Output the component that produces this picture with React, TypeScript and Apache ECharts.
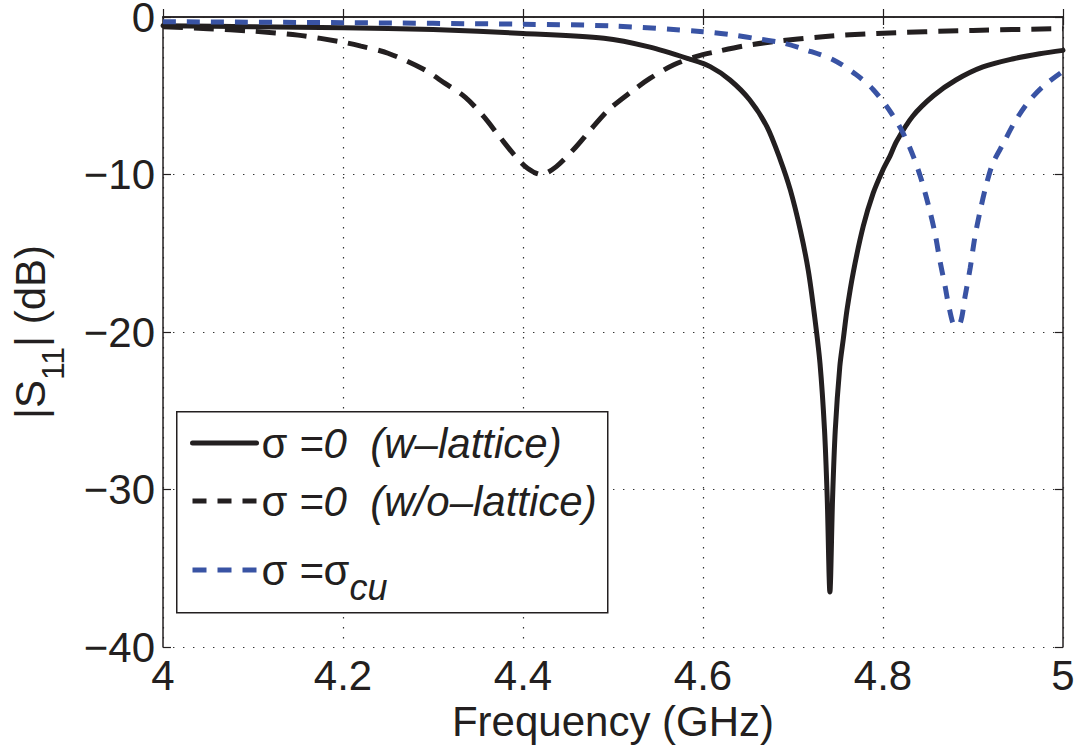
import React, { useEffect, useRef } from "react";
import * as echarts from "echarts";

// ---- data ----
const freqSolid = [4.0, 4.1, 4.2, 4.3, 4.4, 4.49, 4.54, 4.586, 4.608, 4.63, 4.652, 4.671, 4.686, 4.697, 4.708, 4.717, 4.724, 4.73, 4.735, 4.738, 4.741, 4.744, 4.747, 4.752, 4.756, 4.76, 4.767, 4.778, 4.789, 4.8, 4.808, 4.815, 4.833, 4.856, 4.881, 4.911, 4.945, 4.974, 5.0];
const s11Solid = [-0.55, -0.62, -0.68, -0.8, -1.04, -1.35, -1.9, -2.69, -3.15, -4.0, -5.27, -6.96, -9.08, -10.98, -13.5, -16.1, -19.0, -22.0, -26.2, -30.5, -36.5, -30.5, -26.2, -22.2, -20.4, -18.6, -16.2, -13.3, -11.2, -9.7, -8.8, -7.9, -6.3, -5.0, -4.0, -3.17, -2.65, -2.33, -2.12];

const freqNoLattice = [4.0, 4.05, 4.1, 4.15, 4.2, 4.22, 4.25, 4.289, 4.313, 4.336, 4.356, 4.374, 4.391, 4.405, 4.42, 4.437, 4.458, 4.476, 4.495, 4.519, 4.541, 4.567, 4.593, 4.615, 4.645, 4.678, 4.733, 4.793, 4.9, 5.0];
const s11NoLattice = [-0.62, -0.74, -0.9, -1.15, -1.6, -1.85, -2.3, -3.3, -4.2, -5.1, -6.3, -7.6, -8.8, -9.6, -10.0, -9.5, -8.3, -7.1, -5.9, -4.8, -3.9, -3.05, -2.5, -2.2, -1.84, -1.57, -1.25, -1.04, -0.85, -0.74];

const freqCu = [4.0, 4.2, 4.4, 4.5, 4.6, 4.633, 4.663, 4.689, 4.715, 4.745, 4.77, 4.789, 4.808, 4.8226, 4.834, 4.843, 4.852, 4.858, 4.863, 4.869, 4.874, 4.88, 4.886, 4.891, 4.897, 4.902, 4.908, 4.915, 4.922, 4.934, 4.945, 4.96, 4.978, 5.0];
const s11Cu = [-0.3, -0.36, -0.46, -0.57, -0.93, -1.14, -1.41, -1.65, -2.1, -2.73, -3.65, -4.6, -6.0, -7.4, -8.9, -10.4, -12.3, -13.8, -15.4, -17.1, -18.6, -19.6, -19.4, -17.8, -15.9, -14.0, -12.3, -10.6, -9.3, -8.0, -6.8, -5.5, -4.4, -3.45];

const legendLabels: Record<string, string> = {
  w: "{s|σ }{i|=0  (w–lattice)}",
  wo: "{s|σ }{i|=0  (w/o–lattice)}",
  cu: "{s|σ }{i|=}{s|σ}{sub|cu}",
};
const xTicks = { min: 4, max: 5, interval: 0.2 };
const yTicks = { min: -40, max: 0, interval: 10 };

const BLACK = "#231f20";
const BLUE = "#3953a4";
const FONT = "'Liberation Sans', Arial, Helvetica, sans-serif";

const pairs = (xs: number[], ys: number[]) => xs.map((x, i) => [x, ys[i]]);

export default function App() {
  const ref = useRef<HTMLDivElement>(null);
  useEffect(() => {
    if (!ref.current) return;
    const chart = echarts.init(ref.current, null, { renderer: "svg" });
    const axisLine = { show: true, lineStyle: { color: BLACK, width: 1.5 } };
    const tick = { show: true, inside: true, length: 8, lineStyle: { color: BLACK, width: 1.2 } };
    const grid = { show: true, lineStyle: { color: "#333", width: 1.2, type: [1.4, 8.6] as any } };
    const fmtY = (v: number) => (v < 0 ? "\u2212" + Math.abs(v) : String(v));
    const noSymbol = { opacity: 0, borderWidth: 0 };
    const legendText = {
      color: BLACK, fontFamily: FONT, fontSize: 42,
      rich: {
        s: { fontSize: 42, fontFamily: FONT, color: BLACK, lineHeight: 46, verticalAlign: "middle" },
        i: { fontSize: 42, fontFamily: FONT, fontStyle: "italic", color: BLACK, lineHeight: 46, verticalAlign: "middle" },
        sub: { fontSize: 36, fontFamily: FONT, fontStyle: "italic", color: BLACK, lineHeight: 70, verticalAlign: "bottom" },
      },
    };
    const legendBase = {
      orient: "vertical", left: 190, padding: 0, itemGap: 16,
      itemWidth: 64, itemHeight: 14, z: 60,
      formatter: (n: string) => legendLabels[n],
      textStyle: legendText,
    };
    chart.setOption({
      animation: false,
      backgroundColor: "#fff",
      grid: { left: 163, top: 17, right: 21, bottom: 100, outerBoundsMode: "none", containLabel: false },
      xAxis: [
        {
          type: "value", ...xTicks, position: "bottom",
          axisLine, axisTick: tick, splitLine: grid,
          axisLabel: { color: BLACK, fontSize: 42, fontFamily: FONT, margin: 7 },
          name: "Frequency (GHz)", nameLocation: "middle", nameGap: 49,
          nameTextStyle: { color: BLACK, fontSize: 42, fontFamily: FONT },
        },
        {
          type: "value", ...xTicks, position: "top",
          axisLine, axisTick: tick, splitLine: { show: false }, axisLabel: { show: false },
        },
      ],
      yAxis: [
        {
          type: "value", ...yTicks, position: "left",
          axisLine, axisTick: tick, splitLine: grid,
          axisLabel: { color: BLACK, fontSize: 42, fontFamily: FONT, margin: 8, formatter: fmtY },
          name: "{m||S}{sub|11}{m|| (dB)}", nameLocation: "middle", nameGap: 94,
          nameTextStyle: {
            color: BLACK, fontSize: 42, fontFamily: FONT,
            rich: {
              m: { fontSize: 42, fontFamily: FONT, color: BLACK, lineHeight: 46, verticalAlign: "middle" },
              sub: { fontSize: 32, fontFamily: FONT, color: BLACK, lineHeight: 78, verticalAlign: "bottom" },
            },
          },
        },
        {
          type: "value", ...yTicks, position: "right",
          axisLine, axisTick: tick, splitLine: { show: false }, axisLabel: { show: false },
        },
      ],
      legend: [
        {
          ...legendBase, top: 422,
          data: [
            { name: "w", itemStyle: noSymbol, lineStyle: { width: 5, type: "solid", color: BLACK } },
            { name: "wo", itemStyle: noSymbol, lineStyle: { width: 5, type: [14, 11] as any, color: BLACK } },
          ],
        },
        {
          ...legendBase, top: 549,
          data: [
            { name: "cu", itemStyle: noSymbol, lineStyle: { width: 5, type: [14, 11] as any, color: BLUE } },
          ],
        },
      ],
      graphic: [
        {
          type: "rect", z: 50, left: 176, top: 411,
          shape: { width: 431, height: 201 },
          style: { fill: "#fff", stroke: BLACK, lineWidth: 1.5 },
        },
      ],
      series: [
        {
          name: "w", type: "line", data: pairs(freqSolid, s11Solid), symbol: "none", showSymbol: false,
          smooth: 0.3,
          lineStyle: { color: BLACK, width: 5, type: "solid", join: "round", cap: "round" },
          itemStyle: { color: BLACK }, z: 3,
        },
        {
          name: "wo", type: "line", data: pairs(freqNoLattice, s11NoLattice), symbol: "none", showSymbol: false,
          smooth: 0.3,
          lineStyle: { color: BLACK, width: 5, type: [20, 11] as any, cap: "butt" },
          itemStyle: { color: BLACK }, z: 3,
        },
        {
          name: "cu", type: "line", data: pairs(freqCu, s11Cu), symbol: "none", showSymbol: false,
          smooth: 0.3,
          lineStyle: { color: BLUE, width: 5, type: [13, 11] as any, cap: "butt" },
          itemStyle: { color: BLUE }, z: 3,
        },
      ],
    });
    return () => chart.dispose();
  }, []);
  return (
    <div
      ref={ref}
      style={{ position: "fixed", left: 0, top: 0, width: 1084, height: 747, background: "#fff" }}
    />
  );
}
